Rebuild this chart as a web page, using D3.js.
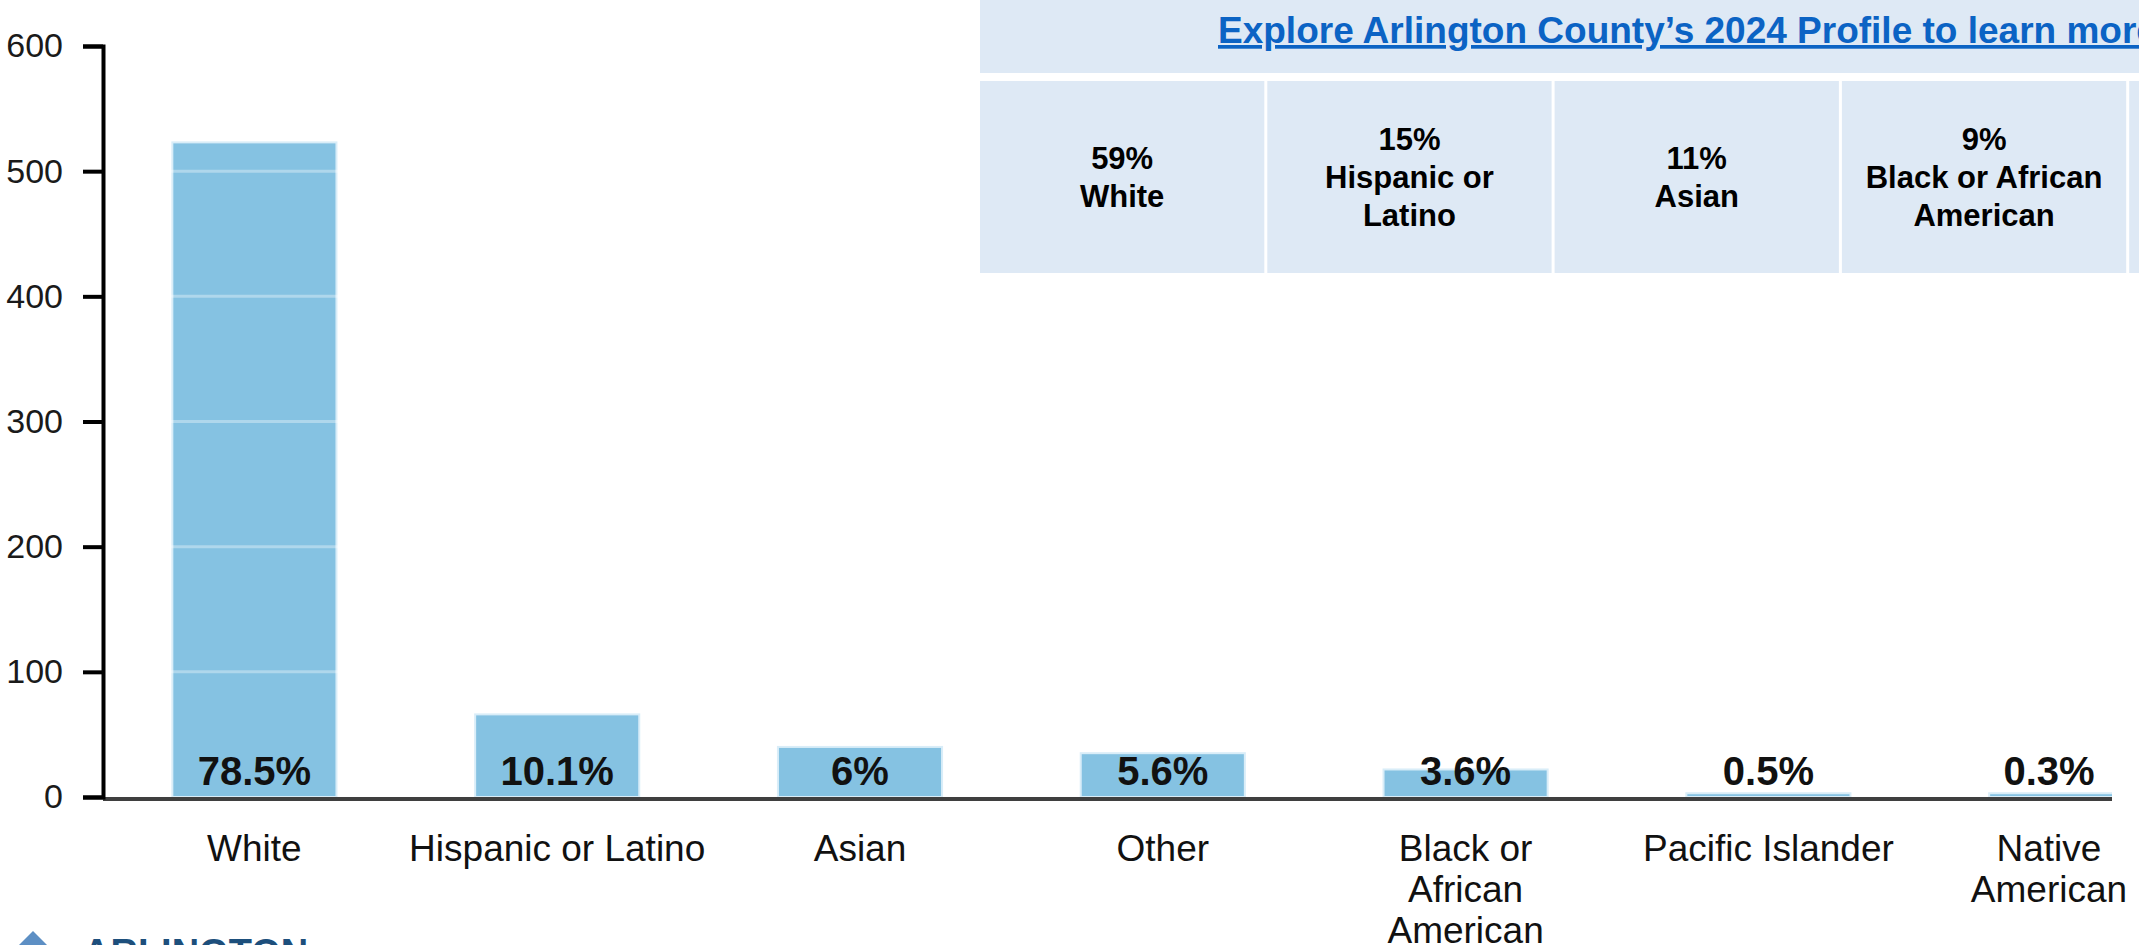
<!DOCTYPE html>
<html>
<head>
<meta charset="utf-8">
<script src="https://cdn.jsdelivr.net/npm/d3@7"></script>
<style>
  body { margin: 0; background: #fff; overflow: hidden; }
  svg { display: block; font-family: "Liberation Sans", Arial, sans-serif; }
</style>
</head>
<body>
<script>
// chart data
var categories = ["White", "Hispanic or Latino", "Asian", "Other", "Black or African American", "Pacific Islander", "Native American"];
var counts = [523, 66, 40, 35, 22, 3, 3];
var pctLabels = ["78.5%", "10.1%", "6%", "5.6%", "3.6%", "0.5%", "0.3%"];
var tickLines = [["White"], ["Hispanic or Latino"], ["Asian"], ["Other"], ["Black or", "African", "American"], ["Pacific Islander"], ["Native", "American"]];
var yTicks = [0, 100, 200, 300, 400, 500, 600];

// county profile panel
var profileTitle = "Explore Arlington County\u2019s 2024 Profile to learn more";
var profilePct = ["59%", "15%", "11%", "9%", ""];
var profileLines = [["White"], ["Hispanic or", "Latino"], ["Asian"], ["Black or African", "American"], []];

var W = 2139, H = 945;
var plotLeft = 103, plotBottom = 797, plotTop = 46, clipRight = 2112;

var svg = d3.select("body")
  .append("svg")
    .attr("width", W)
    .attr("height", H);

svg.append("defs").append("clipPath")
    .attr("id", "plotclip")
  .append("rect")
    .attr("x", 0).attr("y", 0)
    .attr("width", clipRight).attr("height", H);

// scales
var x = d3.scaleBand()
  .domain(categories)
  .range([plotLeft, plotLeft + 7 * 302.8])
  .paddingInner(0.458)
  .paddingOuter(0.229);

var y = d3.scaleLinear()
  .domain([0, 600])
  .range([plotBottom, plotTop]);

// last band runs past the frame, so its labels get pulled back in
function labelX(c, i) {
  var cx = x(c) + x.bandwidth() / 2;
  if (i == categories.length - 1) cx = Math.min(cx, 2049);
  return cx;
}

// bars
var plot = svg.append("g").attr("clip-path", "url(#plotclip)");

plot.selectAll("rect.bar")
  .data(categories)
  .enter()
  .append("rect")
    .attr("class", "bar")
    .attr("x", function(d) { return x(d); })
    .attr("y", function(d, i) { return y(counts[i]); })
    .attr("width", x.bandwidth())
    .attr("height", function(d, i) { return plotBottom - y(counts[i]); })
    .style("fill", "#85c2e2")
    .style("stroke", "#d9edf8")
    .style("stroke-width", 2);

// faint gridlines only show up over the bars
plot.selectAll("line.grid")
  .data(yTicks.filter(function(d) { return d > 0; }))
  .enter()
  .append("line")
    .attr("x1", plotLeft + 4).attr("x2", clipRight)
    .attr("y1", function(d) { return y(d); })
    .attr("y2", function(d) { return y(d); })
    .style("stroke", "#ffffff")
    .style("stroke-opacity", 0.35)
    .style("stroke-width", 3);

// value labels sit at the foot of every bar
svg.selectAll("text.val")
  .data(categories)
  .enter()
  .append("text")
    .attr("class", "val")
    .attr("x", labelX)
    .attr("y", plotBottom - 12)
    .attr("text-anchor", "middle")
    .style("font-size", "40px")
    .style("font-weight", "bold")
    .style("fill", "#111")
    .text(function(d, i) { return pctLabels[i]; });

// x axis line
svg.append("line")
  .attr("x1", plotLeft).attr("x2", clipRight)
  .attr("y1", plotBottom + 2).attr("y2", plotBottom + 2)
  .style("stroke", "#3f3f3f")
  .style("stroke-width", 4);

// x labels
var xl = svg.append("g");
categories.forEach(function(c, i) {
  var cx = labelX(c, i);
  var t = xl.append("text")
    .attr("text-anchor", "middle")
    .style("font-size", "37px")
    .style("fill", "#111");
  tickLines[i].forEach(function(line, j) {
    t.append("tspan")
      .attr("x", cx)
      .attr("y", 861 + j * 41)
      .text(line);
  });
});

// y axis
var yAxis = svg.append("g")
  .attr("transform", "translate(" + plotLeft + ",0)")
  .call(d3.axisLeft(y).tickValues(yTicks).tickSize(20).tickSizeOuter(20).tickPadding(20));
yAxis.selectAll("path, line")
  .style("stroke", "#000")
  .style("stroke-width", 4);
yAxis.selectAll("text")
  .style("font-size", "34px")
  .style("font-family", "'Liberation Sans', Arial, sans-serif")
  .style("fill", "#1a1a1a");

// profile panel
var panelLeft = 980, cellW = 287.3;
svg.append("rect")
  .attr("x", panelLeft).attr("y", -5)
  .attr("width", W - panelLeft + 10).attr("height", 78)
  .style("fill", "#dee9f5");

svg.append("text")
  .attr("x", 1218).attr("y", 43)
  .style("font-size", "37px")
  .style("font-weight", "bold")
  .style("fill", "#0b63c4")
  .style("text-decoration", "underline")
  .text(profileTitle);

var cells = svg.append("g");
profilePct.forEach(function(p, i) {
  var cx0 = panelLeft + i * cellW;
  cells.append("rect")
    .attr("x", cx0).attr("y", 81)
    .attr("width", cellW - 3).attr("height", 192)
    .style("fill", "#dee9f5");
  var lines = p ? [p].concat(profileLines[i]) : [];
  var top = 177 - (lines.length - 1) * 19;
  var t = cells.append("text")
    .attr("text-anchor", "middle")
    .style("font-size", "31px")
    .style("font-weight", "bold")
    .style("fill", "#000");
  lines.forEach(function(line, j) {
    t.append("tspan")
      .attr("x", cx0 + cellW / 2 - 1.5)
      .attr("y", top + j * 38 + 11)
      .text(line);
  });
});

// county logo peeking in at the bottom
svg.append("path")
  .attr("d", "M33,931 L48,946 L18,946 Z")
  .style("fill", "#5d8fc4");
svg.append("text")
  .attr("x", 83).attr("y", 966)
  .style("font-size", "38px")
  .style("font-weight", "bold")
  .style("fill", "#1d4f7c")
  .text("ARLINGTON");
</script>
</body>
</html>
